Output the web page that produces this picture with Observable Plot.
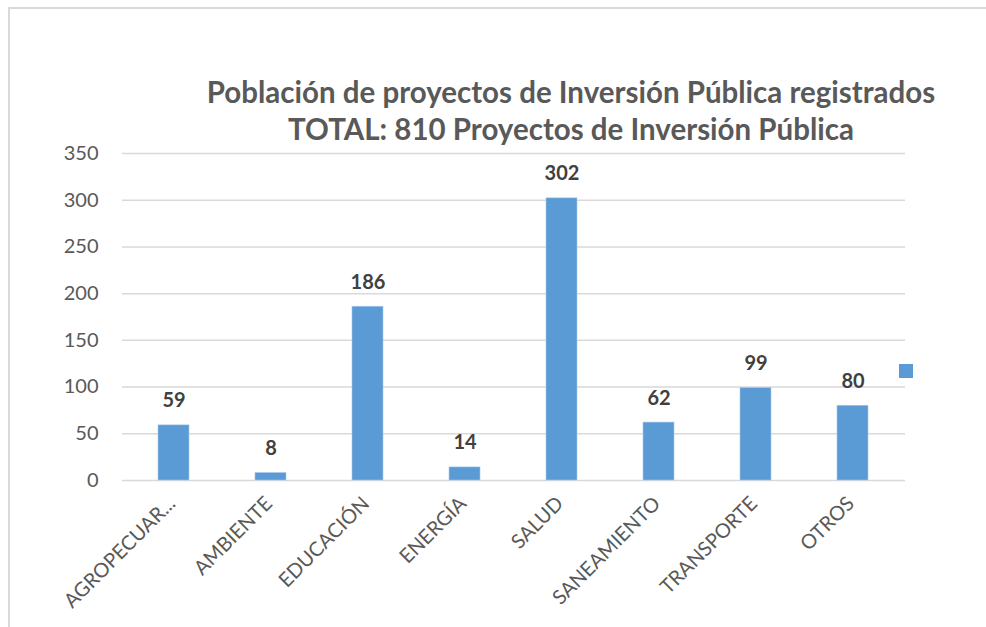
<!DOCTYPE html>
<html>
<head>
<meta charset="utf-8">
<script src="https://cdn.jsdelivr.net/npm/d3@7"></script>
<script src="https://cdn.jsdelivr.net/npm/@observablehq/plot@0.6"></script>
<style>
  html, body { margin: 0; padding: 0; background: #fff; }
  #wrap { position: relative; width: 986px; height: 627px; overflow: hidden; background: #fff; font-family: Lato, "Open Sans", sans-serif; }
  #border { position: absolute; left: 8px; top: 7px; width: 1000px; height: 700px; border-top: 2px solid #d9d9d9; border-left: 2px solid #d9d9d9; box-sizing: border-box; }
  #title { position: absolute; left: 171px; width: 800px; top: 73px; text-align: center; color: #595959; font-weight: bold; font-size: 29.5px; line-height: 37px; white-space: nowrap; }
  #legend { position: absolute; left: 899px; top: 364px; width: 14px; height: 14px; background: #5b9bd5; }
  #chart { position: absolute; left: 0; top: 0; }
</style>
</head>
<body>
<div id="wrap">
  <div id="border"></div>
  <div id="chart"></div>
  <div id="title">Población de proyectos de Inversión Pública registrados<br>TOTAL: 810 Proyectos de Inversión Pública</div>
  <div id="legend"></div>
</div>
<script>
const categories = ["AGROPECUARIO", "AMBIENTE", "EDUCACIÓN", "ENERGÍA", "SALUD", "SANEAMIENTO", "TRANSPORTE", "OTROS"];
const tickLabels = ["AGROPECUAR...", "AMBIENTE", "EDUCACIÓN", "ENERGÍA", "SALUD", "SANEAMIENTO", "TRANSPORTE", "OTROS"];
const values = [59, 8, 186, 14, 302, 62, 99, 80];
const yTicks = [0, 50, 100, 150, 200, 250, 300, 350];

const data = categories.map((c, i) => ({category: c, label: tickLabels[i], value: values[i]}));
const labelOf = new Map(categories.map((c, i) => [c, tickLabels[i]]));

const chart = Plot.plot({
  width: 986,
  height: 627,
  marginLeft: 122,
  marginRight: 81,
  marginTop: 153,
  marginBottom: 147,
  style: {fontFamily: "Lato, 'Open Sans', sans-serif", background: "transparent", overflow: "visible"},
  x: {domain: categories, paddingInner: 0.68, paddingOuter: 0.34, label: null},
  y: {domain: [0, 350], label: null},
  marks: [
    Plot.gridY(yTicks, {stroke: "#d9d9d9", strokeOpacity: 1, strokeWidth: 1.5}),
    Plot.barY(data, {x: "category", y: "value", fill: "#5b9bd5", stroke: "#a9c8ea", strokeWidth: 0.6}),
    Plot.text(data, {x: "category", y: "value", text: d => String(d.value), lineAnchor: "bottom", dy: -18, fontSize: 20, fontWeight: "bold", fill: "#404040"}),
    Plot.axisY(yTicks, {tickSize: 0, tickPadding: 24, fontSize: 20, fill: "#595959", label: null}),
    Plot.axisX({tickSize: 0, tickRotate: -45, tickFormat: d => labelOf.get(d), fontSize: 20, fill: "#595959", dx: -2, dy: 8, label: null})
  ]
});
document.getElementById("chart").appendChild(chart);
</script>
</body>
</html>
